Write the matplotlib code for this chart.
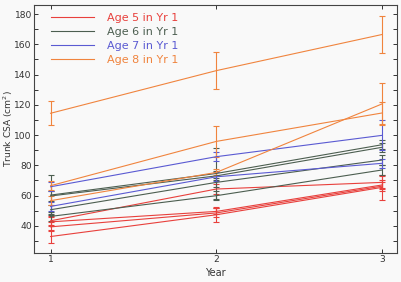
import matplotlib
matplotlib.use("Agg")
import matplotlib.pyplot as plt
from matplotlib.ticker import MultipleLocator

years = [1, 2, 3]

# Age 5 in Yr 1 (red)
age5_vals = [[43.3, 64.3, 68.7], [42.6, 49.5, 67.0], [39.3, 48.5, 66.2], [32.9, 47.3, 65.4]]
age5_errs = [[3, 3, 4], [3, 2, 3], [3, 3, 3], [4, 5, 8.5]]
# Age 6 in Yr 1 (dark grey-green)
age6_vals = [[60.3, 74.6, 93.6], [59.7, 73.0, 91.9], [50.6, 68.7, 83.5], [46.2, 59.9, 76.9]]
age6_errs = [[13, 17, 3], [3, 3, 3], [3, 3, 3], [3, 3, 3]]
# Age 7 in Yr 1 (blue)
age7_vals = [[65.8, 85.7, 99.8], [52.8, 72.4, 81.3]]
age7_errs = [[3, 3, 10], [3, 3, 3]]
# Age 8 in Yr 1 (orange)
age8_vals = [[114.4, 142.6, 166.5], [66.5, 95.8, 114.6], [56.6, 75.3, 120.6]]
age8_errs = [[8, 12, 12], [3, 10, 7], [3, 2, 14]]

labels = ["Age 5 in Yr 1", "Age 6 in Yr 1", "Age 7 in Yr 1", "Age 8 in Yr 1"]
colors = ["#e8403c", "#4c5e50", "#5a5ad2", "#f0843e"]
groups = [(age5_vals, age5_errs), (age6_vals, age6_errs), (age7_vals, age7_errs), (age8_vals, age8_errs)]

fig = plt.figure(figsize=(4.02, 2.82), dpi=100)
fig.patch.set_facecolor("#f9f9f9")
ax = fig.add_axes([34/402, 29/282, 363/402, 248/282])
ax.set_facecolor("#f9f9f9")

handles = []
for (vals, errs), col, lab in zip(groups, colors, labels):
    for i, (v, e) in enumerate(zip(vals, errs)):
        eb = ax.errorbar(years, v, yerr=e, color=col, lw=0.8, elinewidth=0.8,
                         capsize=2, capthick=0.8)
        if i == 0:
            handles.append(eb.lines[0])

ax.set_xlim(0.9, 3.09)
ax.set_ylim(22, 186)
ax.set_xticks(years)
ax.yaxis.set_major_locator(MultipleLocator(20))
ax.yaxis.set_minor_locator(MultipleLocator(10))
ax.tick_params(axis="both", which="both", direction="in", top=True, right=True,
               labelsize=6.6, length=3, width=0.7, color="#333333", labelcolor="#333333",
               pad=1.5)
ax.tick_params(axis="x", which="minor", bottom=False, top=False)
for s in ax.spines.values():
    s.set_color("#444444")
    s.set_linewidth(0.8)

ax.set_xlabel("Year", fontsize=7, color="#333333", labelpad=3)
ax.set_ylabel("Trunk CSA (cm$^2$)", fontsize=6.6, color="#333333")
ax.yaxis.set_label_coords(-19 / 363, 0.5)
ax.yaxis.label.set_rotation_mode("anchor")

leg = ax.legend(handles, labels, loc="upper left", frameon=False, fontsize=8,
                handlelength=3.9, handletextpad=1.1, labelspacing=0.35,
                borderaxespad=0.0, bbox_to_anchor=(0.035, 0.985))
for t, col in zip(leg.get_texts(), colors):
    t.set_color(col)

fig.savefig("out.png", dpi=100, facecolor=fig.get_facecolor())
